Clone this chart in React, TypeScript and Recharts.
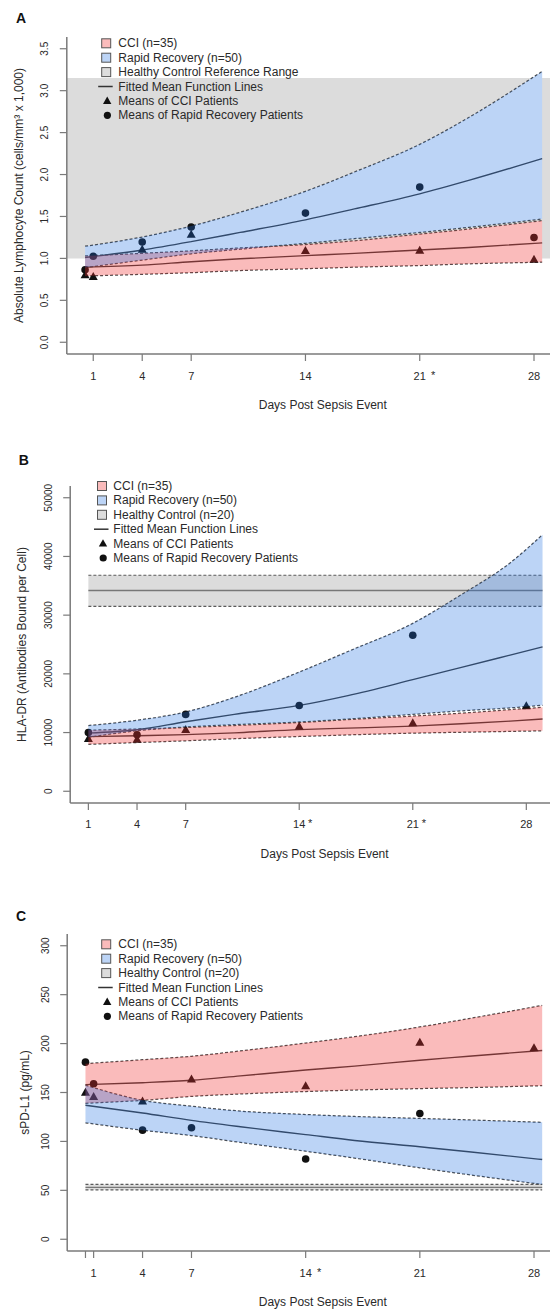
import React from 'react';
import { ComposedChart, Area, Line, Scatter, XAxis, YAxis, ReferenceArea } from 'recharts';

// ---------------- Panel A : Absolute lymphocyte count ----------------
const aCurveDays = [0.5, 4, 7, 10, 14, 17, 21, 24, 28.5];
const aRrUpper = [1.145, 1.255, 1.385, 1.55, 1.8, 2.03, 2.36, 2.68, 3.23];
const aRrMean = [1.01, 1.1, 1.2, 1.31, 1.46, 1.59, 1.77, 1.93, 2.19];
const aRrLower = [0.89, 0.98, 1.055, 1.11, 1.18, 1.235, 1.31, 1.37, 1.47];
const aCciUpper = [1.03, 1.06, 1.09, 1.125, 1.165, 1.21, 1.29, 1.35, 1.45];
const aCciMean = [0.895, 0.92, 0.96, 0.995, 1.033, 1.06, 1.1, 1.13, 1.185];
const aCciLower = [0.79, 0.81, 0.83, 0.855, 0.877, 0.895, 0.915, 0.935, 0.955];
const aRrPointDays = [0.5, 1, 4, 7, 14, 21, 28];
const aRrPoints = [0.865, 1.025, 1.195, 1.375, 1.54, 1.85, 1.25];
const aCciPointDays = [0.5, 1, 4, 7, 14, 21, 28];
const aCciPoints = [0.8, 0.78, 1.105, 1.285, 1.09, 1.095, 0.985];
const aHealthyLow = 1.0;
const aHealthyHigh = 3.15;
const aXTicks = [1, 4, 7, 14, 21, 28];
const aXLabels = ['1', '4', '7', '14', '21 *', '28'];
const aYTicks = [0, 0.5, 1, 1.5, 2, 2.5, 3, 3.5];
const aYLabels = ['0.0', '0.5', '1.0', '1.5', '2.0', '2.5', '3.0', '3.5'];

// ---------------- Panel B : HLA-DR ----------------
const bCurveDays = [1, 4, 7, 10, 14, 17, 21, 24, 27, 29];
const bRrUpper = [11200, 12100, 13500, 16000, 20300, 23800, 28600, 33500, 38900, 43700];
const bRrMean = [9900, 10470, 11840, 13100, 14620, 16300, 19010, 21100, 23200, 24600];
const bRrLower = [9200, 10300, 10950, 11350, 11800, 12300, 13100, 13700, 14200, 14650];
const bCciUpper = [10400, 10600, 10850, 11200, 11700, 12200, 12800, 13300, 13900, 14300];
const bCciMean = [9300, 9450, 9650, 9950, 10500, 10750, 11100, 11500, 11950, 12300];
const bCciLower = [8000, 8300, 8600, 8950, 9330, 9600, 9900, 10050, 10200, 10300];
const bRrPointDays = [1, 4, 7, 14, 21];
const bRrPoints = [10000, 9620, 13090, 14620, 26570];
const bCciPointDays = [1, 4, 7, 14, 21, 28];
const bCciPoints = [8940, 8820, 10470, 11040, 11600, 14500];
const bHealthyLow = 31500;
const bHealthyMean = 34200;
const bHealthyHigh = 36800;
const bXTicks = [1, 4, 7, 14, 21, 28];
const bXLabels = ['1', '4', '7', '14*', '21*', '28'];
const bYTicks = [0, 10000, 20000, 30000, 40000, 50000];
const bYLabels = ['0', '10000', '20000', '30000', '40000', '50000'];

// ---------------- Panel C : sPD-L1 ----------------
const cCurveDays = [0.5, 4, 7, 10, 14, 17, 21, 24, 28.5];
const cCciUpper = [179.5, 183.5, 187, 192.5, 200.5, 207, 217, 225.5, 239];
const cCciMean = [158, 160, 162.5, 167, 173, 177, 183, 187, 193];
const cCciLower = [139, 142, 146, 148.5, 151, 152.5, 154, 155, 157];
const cRrUpper = [157.5, 142, 136, 131, 127.5, 125.5, 123.5, 122, 119.5];
const cRrMean = [137, 129, 121.5, 115, 107, 101, 94.5, 89.5, 81.5];
const cRrLower = [119, 111.5, 106, 99, 90, 83, 73, 66, 56];
const cRrPointDays = [0.5, 1, 4, 7, 14, 21];
const cRrPoints = [181, 159, 111.5, 114, 82, 128.5];
const cCciPointDays = [0.5, 1, 4, 7, 14, 21, 28];
const cCciPoints = [150, 145.5, 141, 163.5, 156.5, 201, 195.5];
const cHealthyLow = 50.5;
const cHealthyMean = 53;
const cHealthyHigh = 56;
const cXTicks = [0.5, 1, 4, 7, 14, 21, 28];
const cXLabels = ['', '1', '4', '7', '14 *', '21', '28'];
const cYTicks = [0, 50, 100, 150, 200, 250, 300];
const cYLabels = ['0', '50', '100', '150', '200', '250', '300'];

// ---------------- Text ----------------
const xTitle = 'Days Post Sepsis Event';
const yTitles = [
  'Absolute Lymphocyte Count (cells/mm³ x 1,000)',
  'HLA-DR (Antibodies Bound per Cell)',
  'sPD-L1 (pg/mL)',
];
const legendCci = 'CCI (n=35)';
const legendRr = 'Rapid Recovery (n=50)';
const legendHealthy = ['Healthy Control Reference Range', 'Healthy Control (n=20)', 'Healthy Control (n=20)'];
const legendLine = 'Fitted Mean Function Lines';
const legendTri = 'Means of CCI Patients';
const legendCircle = 'Means of Rapid Recovery Patients';
const panelLetters = ['A', 'B', 'C'];

// ---------------- Styles ----------------
const FONT = '"Liberation Sans", Arial, Helvetica, sans-serif';
const GRAY_FILL = '#dcdcdc';
const PINK = '#f03030';
const PINK_OP = 0.33;
const BLUE = '#2070e0';
const BLUE_OP = 0.3;
const DASH = '#4a4a4a';
const MEAN = '#3a3a3a';
const AXIS = '#7a7a7a';
const TEXT = '#2a2a2a';
const LEG_PINK = '#fabbbb';
const LEG_BLUE = '#bcd4f6';

type Row = Record<string, any>;

function buildRows(days: number[], cu: number[], cm: number[], cl: number[], ru: number[], rm: number[], rl: number[], hc?: [number, number, number]): Row[] {
  return days.map((d, i) => {
    const r: Row = {
      day: d,
      cciBand: [cl[i], cu[i]],
      cciHi: cu[i],
      cciMean: cm[i],
      cciLo: cl[i],
      rrBand: [rl[i], ru[i]],
      rrHi: ru[i],
      rrMean: rm[i],
      rrLo: rl[i],
    };
    if (hc) {
      r.hcBand = [hc[0], hc[2]];
      r.hcLo = hc[0];
      r.hcMean = hc[1];
      r.hcHi = hc[2];
    }
    return r;
  });
}

const pts = (days: number[], vals: number[]) => days.map((d, i) => ({ day: d, v: vals[i] }));

const CircleShape = (p: any) => <circle cx={p.cx} cy={p.cy} r={3.8} fill="#111" />;
const TriShape = (p: any) => (
  <polygon points={`${p.cx},${p.cy - 4.8} ${p.cx - 4.5},${p.cy + 3.2} ${p.cx + 4.5},${p.cy + 3.2}`} fill="#111" />
);

type Cfg = {
  idx: number;
  top: number;
  yAxisWidth: number;
  xDomain: [number, number];
  yDomain: [number, number];
  xTicks: number[];
  xLabels: string[];
  yTicks: number[];
  yLabels: string[];
  rows: Row[];
  rrPts: Row[];
  cciPts: Row[];
  refRange?: [number, number];
  hasHcBand: boolean;
  whiteCover: boolean;
  letterX: number;
  letterY: number;
  legendTop: number;
  legendBoxX: number;
  legendTextX: number;
  yTitleX: number;
  xTitleX: number;
  tickDy: number;
};

const CH = 412;
const MT = 37;
const XH = 58;
const PLOT_H = CH - MT - XH;

function Panel({ cfg }: { cfg: Cfg }) {
  const xTick = (p: any) => {
    const i = cfg.xTicks.indexOf(p.payload.value);
    const raw = i >= 0 ? cfg.xLabels[i] : '';
    const star = raw.endsWith('*');
    const spaced = raw.endsWith(' *');
    const num = raw.replace(/\s*\*$/, '');
    const by = p.y + cfg.tickDy;
    return (
      <g>
        <text x={p.x} y={by} textAnchor="middle" fontSize={11} fill={TEXT} fontFamily={FONT}>{num}</text>
        {star && (
          <text x={p.x + (spaced ? 13.5 : 11)} y={by - 1} textAnchor="middle" fontSize={11} fill={TEXT} fontFamily={FONT}>*</text>
        )}
      </g>
    );
  };
  const yTick = (p: any) => {
    const i = cfg.yTicks.indexOf(p.payload.value);
    const label = i >= 0 ? cfg.yLabels[i] : '';
    const cx = p.x - 15;
    return (
      <text x={cx} y={p.y} transform={`rotate(-90 ${cx} ${p.y})`} textAnchor="middle" dominantBaseline="central" fontSize={10} fill={TEXT} fontFamily={FONT}>
        {label}
      </text>
    );
  };

  const legendItems = [
    { kind: 'box', fill: LEG_PINK, label: legendCci },
    { kind: 'box', fill: LEG_BLUE, label: legendRr },
    { kind: 'box', fill: GRAY_FILL, label: legendHealthy[cfg.idx] },
    { kind: 'line', fill: '', label: legendLine },
    { kind: 'tri', fill: '', label: legendTri },
    { kind: 'circle', fill: '', label: legendCircle },
  ];
  const bx = cfg.legendBoxX;
  const plotMidY = MT + PLOT_H / 2;

  return (
    <div style={{ position: 'absolute', left: 0, top: cfg.top, width: 550, height: CH }}>
      <ComposedChart width={550} height={CH} data={cfg.rows} margin={{ top: MT, right: 0, bottom: 0, left: 0 }}>
        <XAxis
          type="number"
          dataKey="day"
          domain={cfg.xDomain}
          allowDataOverflow
          ticks={cfg.xTicks}
          interval={0}
          height={XH}
          tickSize={7}
          tickMargin={0}
          axisLine={{ stroke: AXIS, strokeWidth: 1.5 }}
          tickLine={{ stroke: AXIS, strokeWidth: 1.2 }}
          tick={xTick}
        />
        <YAxis
          type="number"
          domain={cfg.yDomain}
          allowDataOverflow
          ticks={cfg.yTicks}
          interval={0}
          width={cfg.yAxisWidth}
          tickSize={7}
          tickMargin={0}
          axisLine={{ stroke: AXIS, strokeWidth: 1.5 }}
          tickLine={{ stroke: AXIS, strokeWidth: 1.2 }}
          tick={yTick}
        />
        {cfg.refRange && (
          <ReferenceArea y1={cfg.refRange[0]} y2={cfg.refRange[1]} fill={GRAY_FILL} fillOpacity={1} stroke="none" ifOverflow="hidden" zIndex={10} />
        )}
        {cfg.hasHcBand && (
          <Area dataKey="hcBand" type="linear" fill={GRAY_FILL} fillOpacity={1} stroke="none" isAnimationActive={false} dot={false} activeDot={false} zIndex={10} />
        )}
        {cfg.hasHcBand && (
          <Line dataKey="hcHi" type="linear" stroke="#5a5a5a" strokeWidth={1.2} strokeDasharray="3 2" dot={false} activeDot={false} isAnimationActive={false} zIndex={12} />
        )}
        {cfg.hasHcBand && (
          <Line dataKey="hcLo" type="linear" stroke="#5a5a5a" strokeWidth={1.2} strokeDasharray="3 2" dot={false} activeDot={false} isAnimationActive={false} zIndex={12} />
        )}
        {cfg.hasHcBand && (
          <Line dataKey="hcMean" type="linear" stroke="#777" strokeWidth={1.4} dot={false} activeDot={false} isAnimationActive={false} zIndex={12} />
        )}
        {cfg.whiteCover && (
          <Area dataKey="cciBand" type="monotone" fill="#ffffff" fillOpacity={1} stroke="none" isAnimationActive={false} dot={false} activeDot={false} zIndex={20} />
        )}
        {cfg.whiteCover && (
          <Area dataKey="rrBand" type="monotone" fill="#ffffff" fillOpacity={1} stroke="none" isAnimationActive={false} dot={false} activeDot={false} zIndex={20} />
        )}
        <Line dataKey="cciHi" type="monotone" stroke={DASH} strokeWidth={1.25} strokeDasharray="3 2" dot={false} activeDot={false} isAnimationActive={false} zIndex={30} />
        <Line dataKey="cciLo" type="monotone" stroke={DASH} strokeWidth={1.25} strokeDasharray="3 2" dot={false} activeDot={false} isAnimationActive={false} zIndex={30} />
        <Line dataKey="rrHi" type="monotone" stroke={DASH} strokeWidth={1.25} strokeDasharray="3 2" dot={false} activeDot={false} isAnimationActive={false} zIndex={30} />
        <Line dataKey="rrLo" type="monotone" stroke={DASH} strokeWidth={1.25} strokeDasharray="3 2" dot={false} activeDot={false} isAnimationActive={false} zIndex={30} />
        <Line dataKey="cciMean" type="monotone" stroke={MEAN} strokeWidth={1.4} dot={false} activeDot={false} isAnimationActive={false} zIndex={30} />
        <Line dataKey="rrMean" type="monotone" stroke={MEAN} strokeWidth={1.4} dot={false} activeDot={false} isAnimationActive={false} zIndex={30} />
        <Scatter data={cfg.rrPts} dataKey="v" shape={CircleShape} isAnimationActive={false} zIndex={40} />
        <Scatter data={cfg.cciPts} dataKey="v" shape={TriShape} isAnimationActive={false} zIndex={40} />
        <Area dataKey="cciBand" type="monotone" fill={PINK} fillOpacity={PINK_OP} stroke="none" isAnimationActive={false} dot={false} activeDot={false} zIndex={50} />
        <Area dataKey="rrBand" type="monotone" fill={BLUE} fillOpacity={BLUE_OP} stroke="none" isAnimationActive={false} dot={false} activeDot={false} zIndex={60} />
      </ComposedChart>
      <svg width={550} height={CH} style={{ position: 'absolute', left: 0, top: 0, pointerEvents: 'none' }}>
        <text x={cfg.letterX} y={cfg.letterY} textAnchor="middle" dominantBaseline="central" fontSize={14} fontWeight="bold" fill="#111" fontFamily={FONT}>
          {panelLetters[cfg.idx]}
        </text>
        <text
          x={cfg.yTitleX}
          y={plotMidY}
          transform={`rotate(-90 ${cfg.yTitleX} ${plotMidY})`}
          textAnchor="middle"
          dominantBaseline="central"
          fontSize={12}
          fill={TEXT}
          fontFamily={FONT}
        >
          {yTitles[cfg.idx]}
        </text>
        <text x={cfg.xTitleX} y={404.5} textAnchor="middle" dominantBaseline="central" fontSize={12} fill={TEXT} fontFamily={FONT}>
          {xTitle}
        </text>
        {legendItems.map((it, i) => {
          const cy = cfg.legendTop + i * 14.4;
          return (
            <g key={i}>
              {it.kind === 'box' && <rect x={bx - 4.5} y={cy - 4.5} width={9} height={9} fill={it.fill} stroke="#555" strokeWidth={1} />}
              {it.kind === 'line' && <line x1={bx - 8} x2={bx + 6.5} y1={cy} y2={cy} stroke="#333" strokeWidth={1.5} />}
              {it.kind === 'tri' && (
                <polygon points={`${bx + 1},${cy - 4.4} ${bx - 3.2},${cy + 3} ${bx + 5.2},${cy + 3}`} fill="#111" />
              )}
              {it.kind === 'circle' && <circle cx={bx + 1.2} cy={cy} r={3.6} fill="#111" />}
              <text x={cfg.legendTextX} y={cy} dominantBaseline="central" fontSize={12} fill={TEXT} fontFamily={FONT}>
                {it.label}
              </text>
            </g>
          );
        })}
      </svg>
    </div>
  );
}

const cfgA: Cfg = {
  idx: 0,
  top: 0,
  yAxisWidth: 66.8,
  xDomain: [-0.62, 28.98],
  yDomain: [-0.14, 3.64],
  xTicks: aXTicks,
  xLabels: aXLabels,
  yTicks: aYTicks,
  yLabels: aYLabels,
  rows: buildRows(aCurveDays, aCciUpper, aCciMean, aCciLower, aRrUpper, aRrMean, aRrLower),
  rrPts: pts(aRrPointDays, aRrPoints),
  cciPts: pts(aCciPointDays, aCciPoints),
  refRange: [aHealthyLow, aHealthyHigh],
  hasHcBand: false,
  whiteCover: true,
  letterX: 21,
  letterY: 18.3,
  legendTop: 43.3,
  legendBoxX: 106.2,
  legendTextX: 118.3,
  yTitleX: 19.3,
  xTitleX: 322.8,
  tickDy: 19.3,
};

const cfgB: Cfg = {
  idx: 1,
  top: 449,
  yAxisWidth: 70.2,
  xDomain: [-0.12, 29.46],
  yDomain: [-2000, 52000],
  xTicks: bXTicks,
  xLabels: bXLabels,
  yTicks: bYTicks,
  yLabels: bYLabels,
  rows: buildRows(bCurveDays, bCciUpper, bCciMean, bCciLower, bRrUpper, bRrMean, bRrLower, [bHealthyLow, bHealthyMean, bHealthyHigh]),
  rrPts: pts(bRrPointDays, bRrPoints),
  cciPts: pts(bCciPointDays, bCciPoints),
  hasHcBand: true,
  whiteCover: false,
  letterX: 23.7,
  letterY: 11,
  legendTop: 37,
  legendBoxX: 102,
  legendTextX: 113.3,
  yTitleX: 21.6,
  xTitleX: 324.6,
  tickDy: 18,
};

const cfgC: Cfg = {
  idx: 2,
  top: 897,
  yAxisWidth: 67.2,
  xDomain: [-0.62, 28.98],
  yDomain: [-12, 312],
  xTicks: cXTicks,
  xLabels: cXLabels,
  yTicks: cYTicks,
  yLabels: cYLabels,
  rows: buildRows(cCurveDays, cCciUpper, cCciMean, cCciLower, cRrUpper, cRrMean, cRrLower, [cHealthyLow, cHealthyMean, cHealthyHigh]),
  rrPts: pts(cRrPointDays, cRrPoints),
  cciPts: pts(cCciPointDays, cCciPoints),
  hasHcBand: true,
  whiteCover: false,
  letterX: 21,
  letterY: 18.5,
  legendTop: 47.3,
  legendBoxX: 106.2,
  legendTextX: 118.3,
  yTitleX: 24.6,
  xTitleX: 322.8,
  tickDy: 19.3,
};

export default function App() {
  return (
    <div
      style={{
        position: 'absolute',
        left: 0,
        top: 0,
        width: 550,
        height: 1309,
        overflow: 'hidden',
        background: '#ffffff',
        fontFamily: FONT,
      }}
    >
      <Panel cfg={cfgA} />
      <Panel cfg={cfgB} />
      <Panel cfg={cfgC} />
    </div>
  );
}
